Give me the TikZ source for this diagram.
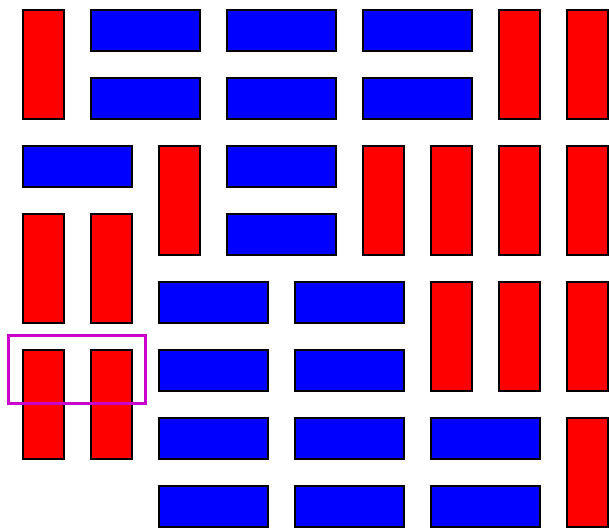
\documentclass[tikz,border=0pt]{standalone}
\begin{document}
\begin{tikzpicture}[x=68pt, y=-68pt]
    % Node styles
    \tikzstyle{dom} = [draw=black, line width=1.6pt, inner sep=0pt, anchor=north west]
    \tikzstyle{v} = [dom, fill=red, minimum width=41pt, minimum height=109pt]
    \tikzstyle{h} = [dom, fill=blue, minimum width=109pt, minimum height=41pt]
    \definecolor{selcol}{RGB}{204,0,204}

    \useasboundingbox (-22/68, -9/68) rectangle (587/68, 519/68);

    % Nodes
    % rows 0-1
    \node[v] (v00) at (0,0) {};
    \node[h] (h10) at (1,0) {};
    \node[h] (h30) at (3,0) {};
    \node[h] (h50) at (5,0) {};
    \node[v] (v70) at (7,0) {};
    \node[v] (v80) at (8,0) {};
    \node[h] (h11) at (1,1) {};
    \node[h] (h31) at (3,1) {};
    \node[h] (h51) at (5,1) {};

    % rows 2-3
    \node[h] (h02) at (0,2) {};
    \node[v] (v22) at (2,2) {};
    \node[h] (h32) at (3,2) {};
    \node[v] (v52) at (5,2) {};
    \node[v] (v62) at (6,2) {};
    \node[v] (v72) at (7,2) {};
    \node[v] (v82) at (8,2) {};
    \node[v] (v03) at (0,3) {};
    \node[v] (v13) at (1,3) {};
    \node[h] (h33) at (3,3) {};

    % rows 4-5
    \node[h] (h24) at (2,4) {};
    \node[h] (h44) at (4,4) {};
    \node[v] (v64) at (6,4) {};
    \node[v] (v74) at (7,4) {};
    \node[v] (v84) at (8,4) {};
    \node[v] (v05) at (0,5) {};
    \node[v] (v15) at (1,5) {};
    \node[h] (h25) at (2,5) {};
    \node[h] (h45) at (4,5) {};

    % rows 6-7
    \node[h] (h26) at (2,6) {};
    \node[h] (h46) at (4,6) {};
    \node[h] (h66) at (6,6) {};
    \node[v] (v86) at (8,6) {};
    \node[h] (h27) at (2,7) {};
    \node[h] (h47) at (4,7) {};
    \node[h] (h67) at (6,7) {};

    % Selection
    \node[draw=selcol, line width=3.2pt, minimum width=137pt, minimum height=68pt, inner sep=0pt] (sel) at (55/68, 360.5/68) {};
\end{tikzpicture}
\end{document}
